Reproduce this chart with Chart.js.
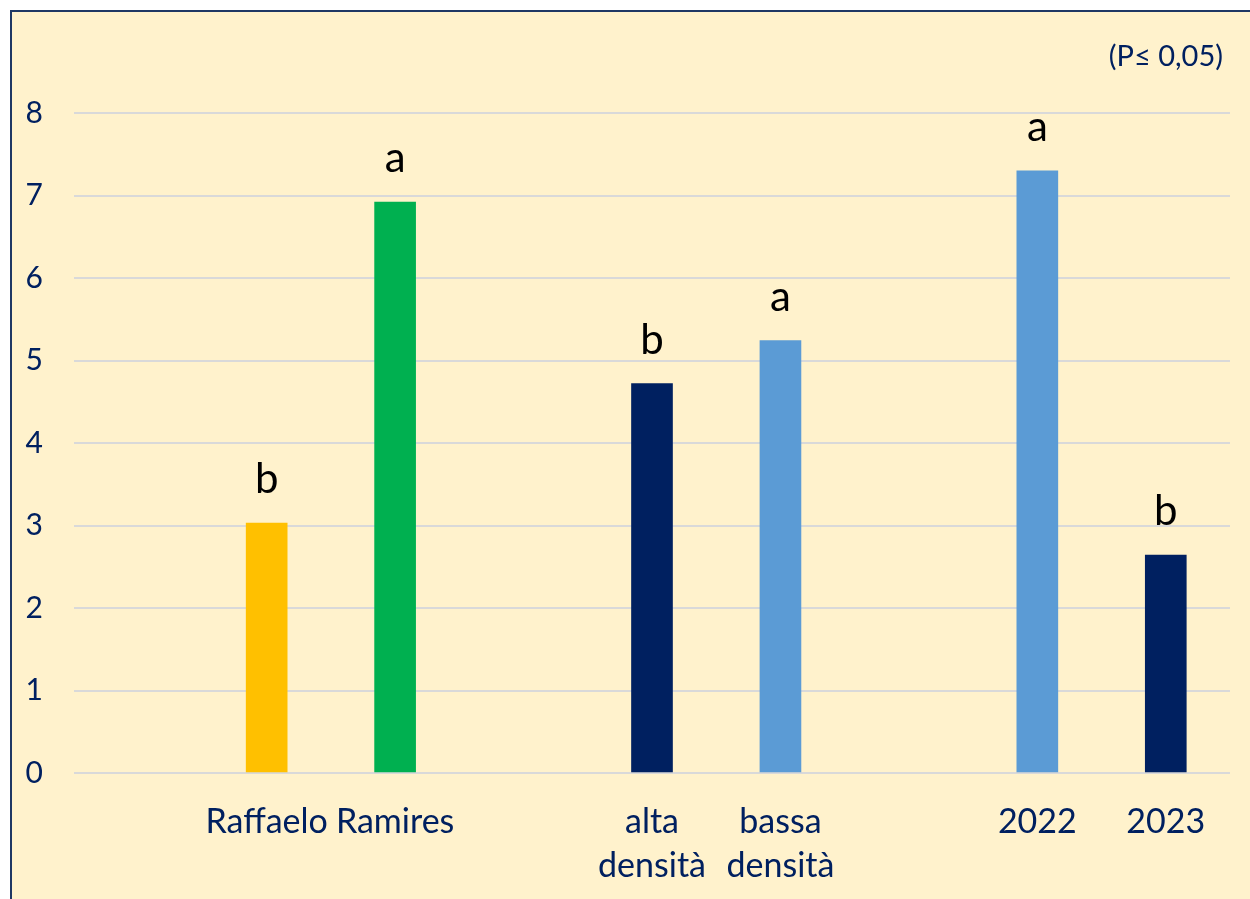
<!DOCTYPE html>
<html>
<head>
<meta charset="utf-8">
<script src="https://cdn.jsdelivr.net/npm/chart.js@4.4.0/dist/chart.umd.min.js"></script>
<style>
    html, body { margin: 0; padding: 0; background: #ffffff; overflow: hidden; }
    .box {
        position: absolute; left: 10px; top: 10px;
        width: 1300px; height: 1000px;
        background: #FFF2CC;
        border-left: 2px solid #1F3864;
        border-top: 2px solid #1F3864;
    }
    #chart { position: absolute; left: 0; top: 0; }
</style>
</head>
<body>
<div class="box"></div>
<canvas id="chart" width="1250" height="899"></canvas>
<script>
(function() {
    'use strict';

    // 数据
    const categories = ['', 'Raffaelo', 'Ramires', '', ['alta', 'densità'], ['bassa', 'densità'], '', '2022', '2023'];
    const values = [null, 3.03, 6.92, null, 4.72, 5.24, null, 7.30, 2.64];
    const letters = ['', 'b', 'a', '', 'b', 'a', '', 'a', 'b'];
    const yTicks = [0, 1, 2, 3, 4, 5, 6, 7, 8];
    const note = '(P≤ 0,05)';

    const barColors = ['#FFC000', '#FFC000', '#00B050', '#002060', '#002060', '#5B9BD5', '#5B9BD5', '#5B9BD5', '#002060'];
    const navy = '#002060';
    const fontFamily = 'Lato, "Open Sans", sans-serif';

    // 字母标注
    const letterPlugin = {
        id: 'letters',
        afterDatasetsDraw(chart) {
            const ctx = chart.ctx;
            const meta = chart.getDatasetMeta(0);
            ctx.save();
            ctx.fillStyle = '#000000';
            ctx.font = '42px ' + fontFamily;
            ctx.textAlign = 'center';
            ctx.textBaseline = 'alphabetic';
            meta.data.forEach((bar, i) => {
                if (!letters[i] || values[i] === null) return;
                ctx.fillText(letters[i], bar.x, bar.y - 30);
            });

            // 右上角注释
            ctx.fillStyle = navy;
            ctx.font = '29px ' + fontFamily;
            ctx.textAlign = 'right';
            ctx.textBaseline = 'middle';
            ctx.fillText(note, chart.chartArea.right - 7, chart.chartArea.top - 56);
            ctx.restore();
        }
    };

    new Chart(document.getElementById('chart').getContext('2d'), {
        type: 'bar',
        data: {
            labels: categories,
            datasets: [{
                data: values,
                backgroundColor: barColors,
                borderWidth: 0,
                barThickness: 41
            }]
        },
        options: {
            responsive: false,
            animation: false,
            layout: {
                padding: { top: 113, right: 20, bottom: 0, left: 0 }
            },
            plugins: {
                legend: { display: false },
                tooltip: { enabled: false }
            },
            scales: {
                x: {
                    grid: { display: false, drawTicks: false },
                    border: { display: false },
                    ticks: {
                        color: navy,
                        padding: 27,
                        maxRotation: 0,
                        autoSkip: false,
                        font: { family: fontFamily, size: 34, lineHeight: 1.3 }
                    },
                    afterFit(scale) { scale.height = 126; }
                },
                y: {
                    min: 0,
                    max: 8,
                    afterBuildTicks(scale) {
                        scale.ticks = yTicks.map(v => ({ value: v }));
                    },
                    grid: { color: '#D9D9D9', lineWidth: 2, drawTicks: false },
                    border: { display: false },
                    ticks: {
                        color: navy,
                        padding: 31,
                        font: { family: fontFamily, size: 30 }
                    },
                    afterFit(scale) { scale.width = 74; }
                }
            }
        },
        plugins: [letterPlugin]
    });
})();
</script>
</body>
</html>
